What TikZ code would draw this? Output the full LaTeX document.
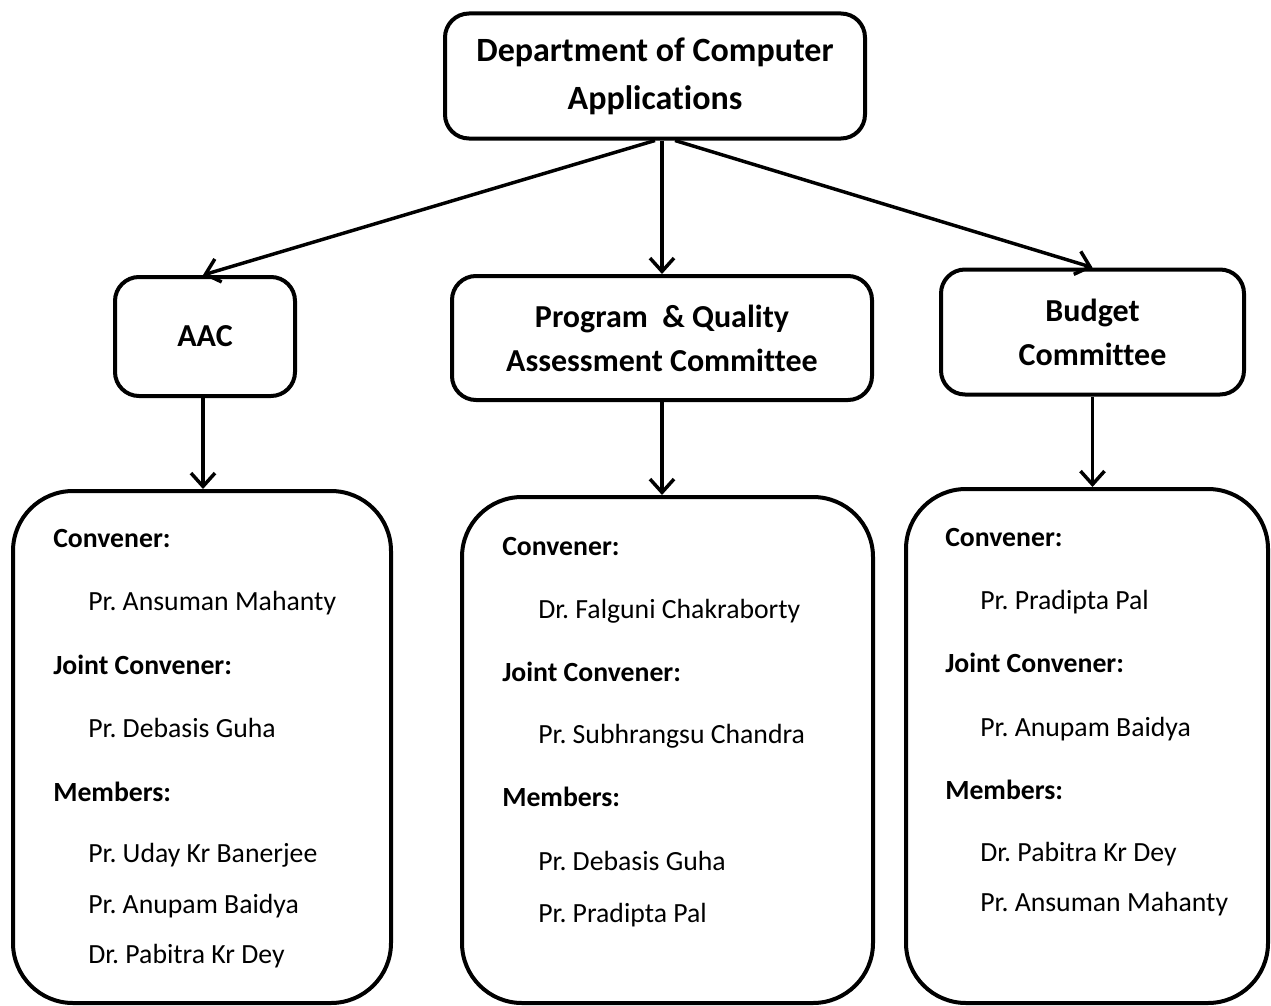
\documentclass[tikz,border=0pt]{standalone}
\usepackage{fontspec}
\setmainfont[RawFeature=-liga]{Carlito}
\usetikzlibrary{arrows.meta}
\frenchspacing
\begin{document}
\begin{tikzpicture}[x=0.75pt,y=-0.75pt,
  head/.style={draw=black,line width=3pt,rounded corners=18pt,align=center,
    font=\bfseries\fontsize{24}{33}\selectfont,inner sep=0pt},
  panel/.style={draw=black,line width=3pt,rounded corners=45pt,inner sep=0pt},
  lab/.style={anchor=mid west,inner sep=0pt,font=\bfseries\fontsize{20.8}{24}\selectfont},
  nm/.style={anchor=mid west,inner sep=0pt,font=\fontsize{20.8}{24}\selectfont},
  arr/.style={line width=2.6pt,-{Straight Barb[length=10pt,width=18pt,line width=2.6pt]}}]
\useasboundingbox (0,0) rectangle (1271,1006);
% header boxes
\node[head,minimum width=315pt,minimum height=93.75pt,font=\bfseries\fontsize{25.5}{36}\selectfont] (top) at (655,76) {Department of Computer\\Applications};
\node[head,minimum width=135pt,minimum height=89.25pt] (aac) at (205,336.5) {AAC};
\node[head,minimum width=315pt,minimum height=93pt] (pq) at (662,338) {Program \ \& Quality\\Assessment Committee};
\node[head,minimum width=227.25pt,minimum height=93.75pt] (bud) at (1092.5,332) {Budget\\Committee};
% panels
\node[panel,minimum width=283.5pt,minimum height=384pt] (pl) at (202,747) {};
\node[panel,minimum width=308.25pt,minimum height=379.5pt] (pm) at (667.5,750) {};
\node[panel,minimum width=271.5pt,minimum height=385.5pt] (pr) at (1087,746) {};
% arrows
\draw[arr] (top.south) -- ([xshift=-1.5pt]aac.north);
\draw[arr] ([xshift=5.25pt]top.south) -- (pq.north);
\draw[arr] ([xshift=15pt]top.south) -- (bud.north);
\draw[arr] ([xshift=-1.5pt]aac.south) -- ([xshift=-1.5pt]aac.south |- pl.north);
\draw[arr] (pq.south) -- (pq.south |- pm.north);
\draw[arr] (bud.south) -- (bud.south |- pr.north);
% left panel text
\node[lab] (l1) at (53,544) {Convener:};
\node[nm]  (l2) at (88,607) {Pr. Ansuman Mahanty};
\node[lab] (l3) at (53,671) {Joint Convener:};
\node[nm]  (l4) at (88,734) {Pr. Debasis Guha};
\node[lab] (l5) at (53,798) {Members:};
\node[nm]  (l6) at (88,859) {Pr. Uday Kr Banerjee};
\node[nm]  (l7) at (88,910) {Pr. Anupam Baidya};
\node[nm]  (l8) at (88,960) {Dr. Pabitra Kr Dey};
% middle panel text
\node[lab] (m1) at (502,552) {Convener:};
\node[nm]  (m2) at (538,615) {Dr. Falguni Chakraborty};
\node[lab] (m3) at (502,678) {Joint Convener:};
\node[nm]  (m4) at (538,740) {Pr. Subhrangsu Chandra};
\node[lab] (m5) at (502,803) {Members:};
\node[nm]  (m6) at (538,867) {Pr. Debasis Guha};
\node[nm]  (m7) at (538,919) {Pr. Pradipta Pal};
% right panel text
\node[lab] (r1) at (945,543) {Convener:};
\node[nm]  (r2) at (980,606) {Pr. Pradipta Pal};
\node[lab] (r3) at (945,669) {Joint Convener:};
\node[nm]  (r4) at (980,733) {Pr. Anupam Baidya};
\node[lab] (r5) at (945,796) {Members:};
\node[nm]  (r6) at (980,858) {Dr. Pabitra Kr Dey};
\node[nm]  (r7) at (980,908) {Pr. Ansuman Mahanty};
\end{tikzpicture}
\end{document}
